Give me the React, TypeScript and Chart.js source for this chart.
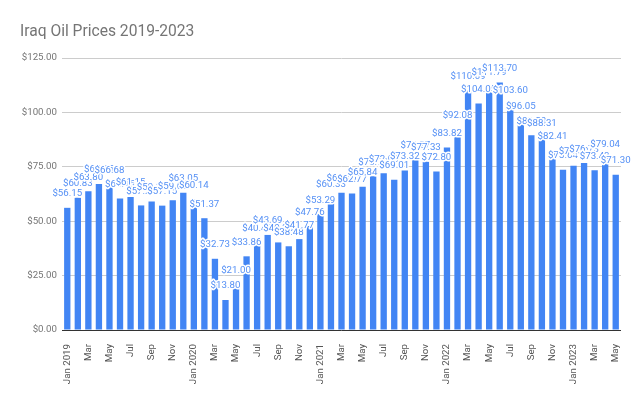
import React, { useEffect, useRef } from "react";
import { Chart, registerables } from "chart.js";

Chart.register(...registerables);

const titleText = "Iraq Oil Prices 2019-2023";

const categories = [
  "Jan 2019", "Feb 2019", "Mar 2019", "Apr 2019", "May 2019", "Jun 2019",
  "Jul 2019", "Aug 2019", "Sep 2019", "Oct 2019", "Nov 2019", "Dec 2019",
  "Jan 2020", "Feb 2020", "Mar 2020", "Apr 2020", "May 2020", "Jun 2020",
  "Jul 2020", "Aug 2020", "Sep 2020", "Oct 2020", "Nov 2020", "Dec 2020",
  "Jan 2021", "Feb 2021", "Mar 2021", "Apr 2021", "May 2021", "Jun 2021",
  "Jul 2021", "Aug 2021", "Sep 2021", "Oct 2021", "Nov 2021", "Dec 2021",
  "Jan 2022", "Feb 2022", "Mar 2022", "Apr 2022", "May 2022", "Jun 2022",
  "Jul 2022", "Aug 2022", "Sep 2022", "Oct 2022", "Nov 2022", "Dec 2022",
  "Jan 2023", "Feb 2023", "Mar 2023", "Apr 2023", "May 2023",
];

const tickLabels = [
  "Jan 2019", "", "Mar", "", "May", "", "Jul", "", "Sep", "", "Nov", "",
  "Jan 2020", "", "Mar", "", "May", "", "Jul", "", "Sep", "", "Nov", "",
  "Jan 2021", "", "Mar", "", "May", "", "Jul", "", "Sep", "", "Nov", "",
  "Jan 2022", "", "Mar", "", "May", "", "Jul", "", "Sep", "", "Nov", "",
  "Jan 2023", "", "Mar", "", "May",
];

const prices = [
  56.15, 60.83, 63.8, 67.15, 66.68, 60.45, 61.15, 57.25, 59.1, 57.15, 59.65, 63.05,
  60.14, 51.37, 32.73, 13.8, 21.0, 33.86, 40.4, 43.69, 40.25, 38.48, 41.77, 47.76,
  53.29, 60.33, 63.1, 62.77, 65.84, 70.7, 72.0, 69.01, 73.32, 78.27, 77.33, 72.8,
  83.82, 92.08, 110.09, 104.05, 111.79, 113.7, 103.6, 96.05, 89.5, 88.31, 82.41, 73.64,
  75.5, 76.73, 73.43, 79.04, 71.3,
];

const yMin = 0;
const yMax = 125;
const yStep = 25;

const BAR_COLOR = "#4285f4";
const LABEL_COLOR = "#5590f5";
const FONT = "Roboto";

const overlayPlugin = {
  id: "overlay",
  afterDatasetsDraw(chart: any) {
    const ctx = chart.ctx;
    const area = chart.chartArea;
    const yScale = chart.scales.y;
    // baseline
    const y0 = Math.round(yScale.getPixelForValue(0)) + 0.5;
    ctx.save();
    ctx.strokeStyle = "#333333";
    ctx.lineWidth = 1;
    ctx.beginPath();
    ctx.moveTo(area.left, y0);
    ctx.lineTo(area.right, y0);
    ctx.stroke();
    // value labels with white halo
    const meta = chart.getDatasetMeta(0);
    ctx.font = `9.7px ${FONT}`;
    ctx.textAlign = "center";
    ctx.textBaseline = "alphabetic";
    ctx.lineJoin = "round";
    meta.data.forEach((bar: any, i: number) => {
      const text = "$" + prices[i].toFixed(2);
      const x = bar.x;
      const y = bar.y - 11.5;
      ctx.lineWidth = 3;
      ctx.strokeStyle = "#ffffff";
      ctx.strokeText(text, x, y);
      ctx.fillStyle = LABEL_COLOR;
      ctx.fillText(text, x, y);
    });
    ctx.restore();
  },
  afterDraw(chart: any) {
    const ctx = chart.ctx;
    ctx.save();
    ctx.font = `15.6px ${FONT}`;
    ctx.fillStyle = "#757575";
    ctx.textAlign = "left";
    ctx.textBaseline = "alphabetic";
    ctx.fillText(titleText, 20, 36);
    ctx.restore();
  },
};

export default function App() {
  const canvasRef = useRef<HTMLCanvasElement | null>(null);

  useEffect(() => {
    document.body.style.margin = "0";
    const canvas = canvasRef.current;
    if (!canvas) return;
    const chart = new Chart(canvas, {
      type: "bar",
      data: {
        labels: categories,
        datasets: [
          {
            data: prices,
            backgroundColor: BAR_COLOR,
            borderWidth: 0,
            categoryPercentage: 1,
            barPercentage: 0.6,
          },
        ],
      },
      options: {
        animation: false,
        responsive: true,
        maintainAspectRatio: false,
        devicePixelRatio: 1,
        layout: { padding: { top: 58, right: 19, left: 0, bottom: 0 } },
        plugins: {
          legend: { display: false },
          title: { display: false },
          tooltip: { enabled: false },
        },
        scales: {
          x: {
            offset: true,
            grid: { display: false },
            border: { display: false },
            afterFit: (scale: any) => {
              scale.height = 66;
            },
            ticks: {
              autoSkip: false,
              minRotation: 90,
              maxRotation: 90,
              padding: 6,
              color: "#555555",
              font: { family: FONT, size: 9.7 },
              callback: (_v: any, i: number) => tickLabels[i],
            },
          },
          y: {
            min: yMin,
            max: yMax,
            grid: { color: "#cccccc", drawTicks: false, lineWidth: 1 },
            border: { display: false },
            afterFit: (scale: any) => {
              scale.width = 62;
            },
            ticks: {
              stepSize: yStep,
              padding: 5,
              color: "#757575",
              font: { family: FONT, size: 9.7 },
              callback: (v: any) => "$" + Number(v).toFixed(2),
            },
          },
        },
      },
      plugins: [overlayPlugin],
    });
    return () => chart.destroy();
  }, []);

  return (
    <div style={{ width: 640, height: 396, position: "relative", background: "#ffffff" }}>
      <canvas ref={canvasRef} />
    </div>
  );
}
